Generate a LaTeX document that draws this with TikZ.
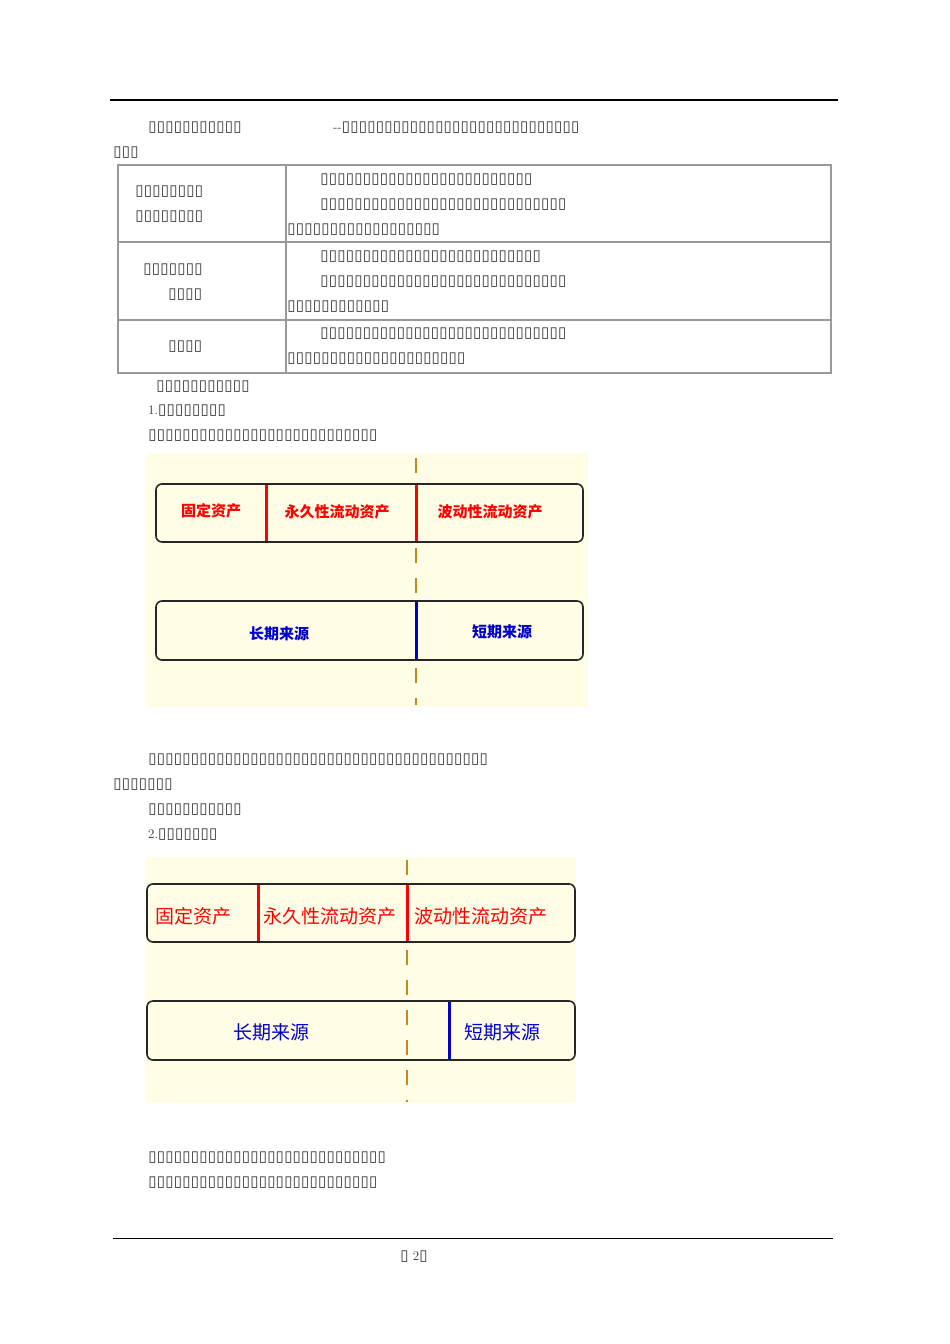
\documentclass[tikz,border=0pt]{standalone}
\usepackage{fontspec}
\newfontfamily\djf{DejaVu Sans}
\newfontfamily\cjk{Noto Sans CJK SC}
\newcommand\bx{\makebox[8.5pt]{\djf\fontsize{15}{15}\selectfont ▯}}
\newcommand\tb[1]{\foreach\i in{1,...,#1}{\bx}}
\definecolor{bgy}{HTML}{FFFDE6}
\definecolor{brn}{HTML}{C08A20}
\definecolor{grl}{HTML}{999999}
\tikzset{txt/.style={anchor=west,inner sep=0pt,text=black!80,font=\fontsize{13}{13}\selectfont},
 rbox/.style={draw=black!85,line width=1.6pt,rounded corners=6pt},
 dsh/.style={brn,line width=2.5pt,dash pattern=on 15pt off 15pt},
 lab1/.style={font=\cjk\bfseries\fontsize{15}{15}\selectfont,inner sep=0pt},
 lab2/.style={font=\cjk\fontsize{19}{19}\selectfont,inner sep=0pt}}
\begin{document}
\begin{tikzpicture}[x=1pt,y=-1pt]
\useasboundingbox (0,0) rectangle (950,1344);
\fill[white] (0,0) rectangle (950,1344);
\draw[line width=1.5pt] (110,100) -- (838,100);
\draw[line width=1pt] (113,1238) -- (833,1238);
\node[txt] (f) at (400,1257) {\bx\ 2\bx};
% text lines
\node[txt] (t1) at (148,128) {\tb{11}};
\node[txt] (t1b) at (333,128) {-{}-\tb{28}};
\node[txt] (t2) at (113,153) {\tb{3}};
% table
\draw[grl,line width=2.5pt] (118,165) rectangle (831,373);
\draw[grl,line width=2.5pt] (118,242) -- (831,242) (118,320) -- (831,320) (286,165) -- (286,373);
\node[txt] at (135,192) {\tb{8}};
\node[txt] at (135,217) {\tb{8}};
\node[txt] at (320,180) {\tb{25}};
\node[txt] at (320,205) {\tb{29}};
\node[txt] at (287,230) {\tb{18}};
\node[txt] at (143,270) {\tb{7}};
\node[txt] at (168,295) {\tb{4}};
\node[txt] at (320,257) {\tb{26}};
\node[txt] at (320,282) {\tb{29}};
\node[txt] at (287,307) {\tb{12}};
\node[txt] at (168,347) {\tb{4}};
\node[txt] at (320,334) {\tb{29}};
\node[txt] at (287,359) {\tb{21}};
\node[txt] at (156,387) {\tb{11}};
\node[txt] at (148,411) {1.\tb{8}};
\node[txt] at (148,436) {\tb{27}};
% diagram 1
\fill[bgy] (146,453) rectangle (588,707);
\draw[dsh] (416,458) -- (416,705);
\fill[bgy] (157,485) rectangle (582,541);
\fill[bgy] (157,602) rectangle (582,659);
\draw[rbox] (156,484) rectangle (583,542);
\draw[rbox] (156,601) rectangle (583,660);
\draw[red,line width=3pt] (266,485) -- (266,541) (416,485) -- (416,541);
\draw[blue!80!black,line width=3pt] (416,602) -- (416,659);
\node[lab1,red] (a1) at (211,511) {固定资产};
\node[lab1,red] (a2) at (337,512) {永久性流动资产};
\node[lab1,red] (a3) at (490,512) {波动性流动资产};
\node[lab1,blue!80!black] (b1) at (279,634) {长期来源};
\node[lab1,blue!80!black] (b2) at (502,632) {短期来源};
\node[txt] at (148,760) {\tb{40}};
\node[txt] at (113,785) {\tb{7}};
\node[txt] at (148,810) {\tb{11}};
\node[txt] at (148,835) {2.\tb{7}};
% diagram 2
\fill[bgy] (146,857) rectangle (576,1103);
\draw[dsh] (407,860) -- (407,1102);
\fill[bgy] (148,885) rectangle (574,941);
\draw[rbox] (147,884) rectangle (575,942);
\draw[rbox] (147,1001) rectangle (575,1060);
\draw[red,line width=3pt] (258,885) -- (258,941) (407,885) -- (407,941);
\draw[blue!80!black,line width=3pt] (449,1002) -- (449,1059);
\node[lab2,red] (c1) at (193,916) {固定资产};
\node[lab2,red] (c2) at (330,916) {永久性流动资产};
\node[lab2,red] (c3) at (481,916) {波动性流动资产};
\node[lab2,blue!80!black] (d1) at (271,1032) {长期来源};
\node[lab2,blue!80!black] (d2) at (502,1032) {短期来源};
\node[txt] at (148,1158) {\tb{28}};
\node[txt] at (148,1183) {\tb{27}};
\end{tikzpicture}
\end{document}
